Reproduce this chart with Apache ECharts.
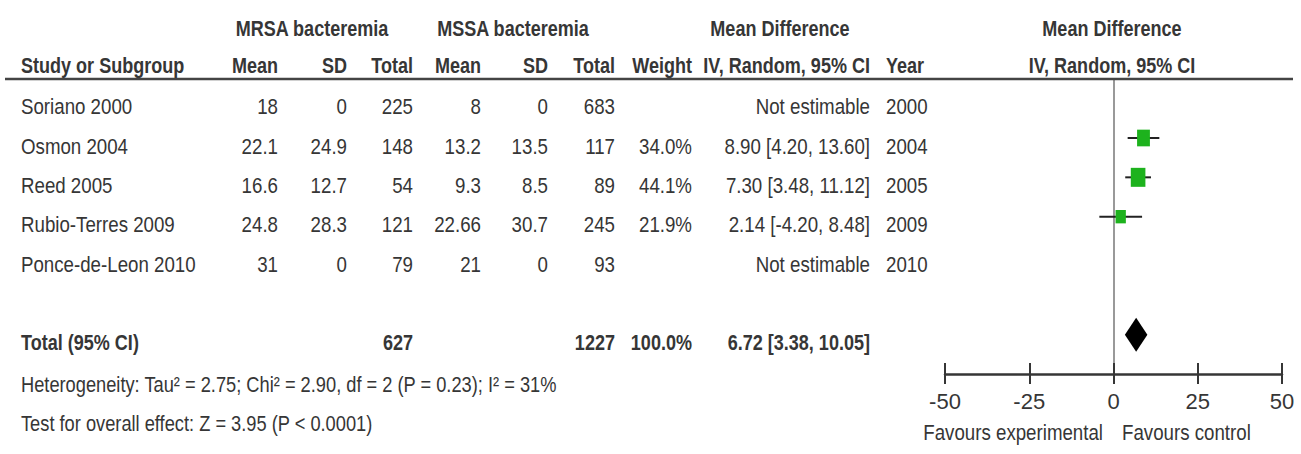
<!DOCTYPE html>
<html>
<head>
<meta charset="utf-8">
<title>MRSA vs MSSA bacteremia – mean difference</title>
<script src="https://cdn.jsdelivr.net/npm/echarts@6/dist/echarts.min.js"></script>
<style>
  html, body { margin: 0; padding: 0; background: #fff; }
  #chart { width: 1301px; height: 454px; }
</style>
</head>
<body>
<div id="chart"></div>
<script>
// ---- study data ----
const studies   = ['Soriano 2000', 'Osmon 2004', 'Reed 2005', 'Rubio-Terres 2009', 'Ponce-de-Leon 2010'];
const mrsaMean  = [18, 22.1, 16.6, 24.8, 31];
const mrsaSD    = [0, 24.9, 12.7, 28.3, 0];
const mrsaTotal = [225, 148, 54, 121, 79];
const mssaMean  = [8, 13.2, 9.3, 22.66, 21];
const mssaSD    = [0, 13.5, 8.5, 30.7, 0];
const mssaTotal = [683, 117, 89, 245, 93];
const weights   = [null, 34.0, 44.1, 21.9, null];
const meanDiff  = [null, 8.90, 7.30, 2.14, null];
const ciLower   = [null, 4.20, 3.48, -4.20, null];
const ciUpper   = [null, 13.60, 11.12, 8.48, null];
const years     = [2000, 2004, 2005, 2009, 2010];

// ---- pooled result ----
const pooledTotals = [627, 1227];
const pooledEffect = [6.72, 3.38, 10.05];   // estimate, lower, upper
const heterogeneity = { tau2: 2.75, chi2: 2.90, df: 2, p: 0.23, i2: 31 };
const overallEffect = { z: 3.95, p: '< 0.0001' };

// ---- axis ----
const xTicks = [-50, -25, 0, 25, 50];

// ---- styling / layout ----
const FONT = "'Liberation Sans', Arial, sans-serif";
const FS = 22;
const NARROW = 0.85;        // horizontal squeeze for a narrow typeface look
const NARROW_BOLD = 0.82;
const NARROW_NOTE = 0.83;
const INK = '#363636';
const TEXT_DY = 8;          // text sits slightly below the marker row line
const ROW_MIN = -0.5, ROW_MAX = 7;
const GRID_TOP = 79, GRID_H = 295;
const COLS = {
  study:     { x: 21,  align: 'left' },
  mrsaMean:  { x: 278, align: 'right' },
  mrsaSD:    { x: 347, align: 'right' },
  mrsaTotal: { x: 413, align: 'right' },
  mssaMean:  { x: 481, align: 'right' },
  mssaSD:    { x: 548, align: 'right' },
  mssaTotal: { x: 615, align: 'right' },
  weight:    { x: 692, align: 'right' },
  ci:        { x: 870, align: 'right' },
  year:      { x: 886, align: 'left' },
  grp1:      { x: 312, align: 'center' },
  grp2:      { x: 513, align: 'center' },
  md:        { x: 780, align: 'center' },
  plot:      { x: 1112, align: 'center' }
};

const fmtCI = (m, l, u) => m.toFixed(2) + ' [' + l.toFixed(2) + ', ' + u.toFixed(2) + ']';

// ---- table cells ----
const cells = [];
function cell(col, row, text, bold, squeeze) {
  cells.push({ col, row, text: String(text), bold: !!bold, squeeze: squeeze || (bold ? NARROW_BOLD : NARROW) });
}

// header
cell('grp1', -2, 'MRSA bacteremia', true);
cell('grp2', -2, 'MSSA bacteremia', true);
cell('md', -2, 'Mean Difference', true);
cell('plot', -2, 'Mean Difference', true);
const hdr2 = -1.06;
cell('study', hdr2, 'Study or Subgroup', true);
cell('mrsaMean', hdr2, 'Mean', true);
cell('mrsaSD', hdr2, 'SD', true);
cell('mrsaTotal', hdr2, 'Total', true);
cell('mssaMean', hdr2, 'Mean', true);
cell('mssaSD', hdr2, 'SD', true);
cell('mssaTotal', hdr2, 'Total', true);
cell('weight', hdr2, 'Weight', true);
cell('ci', hdr2, 'IV, Random, 95% CI', true);
cell('year', hdr2, 'Year', true);
cell('plot', hdr2, 'IV, Random, 95% CI', true);

// study rows
studies.forEach((s, i) => {
  cell('study', i, s);
  cell('mrsaMean', i, mrsaMean[i]);
  cell('mrsaSD', i, mrsaSD[i]);
  cell('mrsaTotal', i, mrsaTotal[i]);
  cell('mssaMean', i, mssaMean[i]);
  cell('mssaSD', i, mssaSD[i]);
  cell('mssaTotal', i, mssaTotal[i]);
  if (weights[i] != null) cell('weight', i, weights[i].toFixed(1) + '%');
  cell('ci', i, meanDiff[i] != null ? fmtCI(meanDiff[i], ciLower[i], ciUpper[i]) : 'Not estimable');
  cell('year', i, years[i]);
});

// pooled row + footnotes
const TOTAL_ROW = 6;
cell('study', TOTAL_ROW, 'Total (95% CI)', true);
cell('mrsaTotal', TOTAL_ROW, pooledTotals[0], true);
cell('mssaTotal', TOTAL_ROW, pooledTotals[1], true);
cell('weight', TOTAL_ROW, '100.0%', true);
cell('ci', TOTAL_ROW, fmtCI(pooledEffect[0], pooledEffect[1], pooledEffect[2]), true);
cell('study', 7.07, 'Heterogeneity: Tau\u00b2 = ' + heterogeneity.tau2.toFixed(2) + '; Chi\u00b2 = ' +
  heterogeneity.chi2.toFixed(2) + ', df = ' + heterogeneity.df + ' (P = ' + heterogeneity.p.toFixed(2) +
  '); I\u00b2 = ' + heterogeneity.i2 + '%', false, NARROW_NOTE);
cell('study', 8.04, 'Test for overall effect: Z = ' + overallEffect.z.toFixed(2) + ' (P ' + overallEffect.p + ')',
  false, NARROW_NOTE);

// ---- forest marks ----
const studyMarks = [];
studies.forEach((s, i) => {
  if (meanDiff[i] != null) studyMarks.push([meanDiff[i], ciLower[i], ciUpper[i], i, weights[i]]);
});
const pooledMark = [[pooledEffect[0], pooledEffect[1], pooledEffect[2], TOTAL_ROW]];

const chart = echarts.init(document.getElementById('chart'), null, { renderer: 'svg' });

const textStyle = (c) => ({
  text: c.text,
  fill: INK,
  fontSize: FS,
  fontFamily: FONT,
  fontWeight: c.bold ? 'bold' : 'normal',
  align: COLS[c.col].align,
  verticalAlign: 'middle'
});

chart.setOption({
  animation: false,
  backgroundColor: '#fff',
  grid: [
    { left: 945, width: 337, top: GRID_TOP, height: GRID_H },
    { left: 0, width: 1301, top: GRID_TOP, height: GRID_H }
  ],
  xAxis: [
    {
      gridIndex: 0, type: 'value', min: xTicks[0], max: xTicks[xTicks.length - 1], interval: 25,
      position: 'bottom',
      axisLine: { show: true, onZero: false, lineStyle: { color: INK, width: 2.5 } },
      axisTick: { show: true, length: 10, lineStyle: { color: INK, width: 2 } },
      axisLabel: { show: true, color: INK, fontSize: FS, fontFamily: FONT, margin: 16 },
      splitLine: { show: false }
    },
    {
      // upper half of the crossing tick marks
      gridIndex: 0, type: 'value', min: xTicks[0], max: xTicks[xTicks.length - 1], interval: 25,
      position: 'top', offset: -GRID_H,
      axisLine: { show: false, onZero: false },
      axisTick: { show: true, length: 11, lineStyle: { color: INK, width: 2 } },
      axisLabel: { show: false },
      splitLine: { show: false }
    },
    { gridIndex: 1, type: 'value', min: 0, max: 1301, show: false }
  ],
  yAxis: [
    {
      gridIndex: 0, type: 'value', inverse: true, min: ROW_MIN, max: ROW_MAX,
      axisLine: { show: true, onZero: true, lineStyle: { color: '#777', width: 1.5 } },
      axisTick: { show: false }, axisLabel: { show: false }, splitLine: { show: false }
    },
    { gridIndex: 1, type: 'value', inverse: true, min: ROW_MIN, max: ROW_MAX, show: false }
  ],
  graphic: [
    { type: 'line', shape: { x1: 5, y1: GRID_TOP, x2: 1293, y2: GRID_TOP }, style: { stroke: '#444', lineWidth: 2.5 }, z: 10 },
    { type: 'text', x: 1103, y: 432, scaleX: NARROW, style: { text: 'Favours experimental', fill: INK, fontSize: FS, fontFamily: FONT, align: 'right', verticalAlign: 'middle' } },
    { type: 'text', x: 1122, y: 432, scaleX: NARROW, style: { text: 'Favours control', fill: INK, fontSize: FS, fontFamily: FONT, align: 'left', verticalAlign: 'middle' } }
  ],
  series: [
    {
      // table text
      type: 'custom', xAxisIndex: 2, yAxisIndex: 1, clip: false, silent: true,
      data: cells.map((c, i) => [COLS[c.col].x, c.row, i]),
      encode: { x: 0, y: 1 },
      renderItem: (params, api) => {
        const c = cells[api.value(2)];
        const p = api.coord([api.value(0), api.value(1)]);
        return {
          type: 'text', x: p[0], y: p[1] + TEXT_DY,
          scaleX: c.squeeze,
          style: textStyle(c)
        };
      }
    },
    {
      // study estimates with confidence intervals
      type: 'custom', xAxisIndex: 0, yAxisIndex: 0, clip: false, silent: true,
      data: studyMarks,
      encode: { x: [0, 1, 2], y: 3 },
      renderItem: (params, api) => {
        const r = api.value(3);
        const c = api.coord([api.value(0), r]);
        const lo = api.coord([api.value(1), r]);
        const hi = api.coord([api.value(2), r]);
        const w = 2.2 * Math.sqrt(api.value(4));
        const h = w * 1.3;
        return {
          type: 'group',
          children: [
            { type: 'line', shape: { x1: lo[0], y1: lo[1], x2: hi[0], y2: hi[1] }, style: { stroke: '#222', lineWidth: 2 } },
            { type: 'rect', shape: { x: c[0] - w / 2, y: c[1] - h / 2, width: w, height: h }, style: { fill: '#1db21d' } }
          ]
        };
      }
    },
    {
      // pooled estimate diamond
      type: 'custom', xAxisIndex: 0, yAxisIndex: 0, clip: false, silent: true,
      data: pooledMark,
      encode: { x: [0, 1, 2], y: 3 },
      renderItem: (params, api) => {
        const r = api.value(3);
        const c = api.coord([api.value(0), r]);
        const lo = api.coord([api.value(1), r]);
        const hi = api.coord([api.value(2), r]);
        const half = 17;
        return {
          type: 'polygon',
          shape: { points: [[lo[0], c[1]], [c[0], c[1] - half], [hi[0], c[1]], [c[0], c[1] + half]] },
          style: { fill: '#000' }
        };
      }
    }
  ]
});
</script>
</body>
</html>
